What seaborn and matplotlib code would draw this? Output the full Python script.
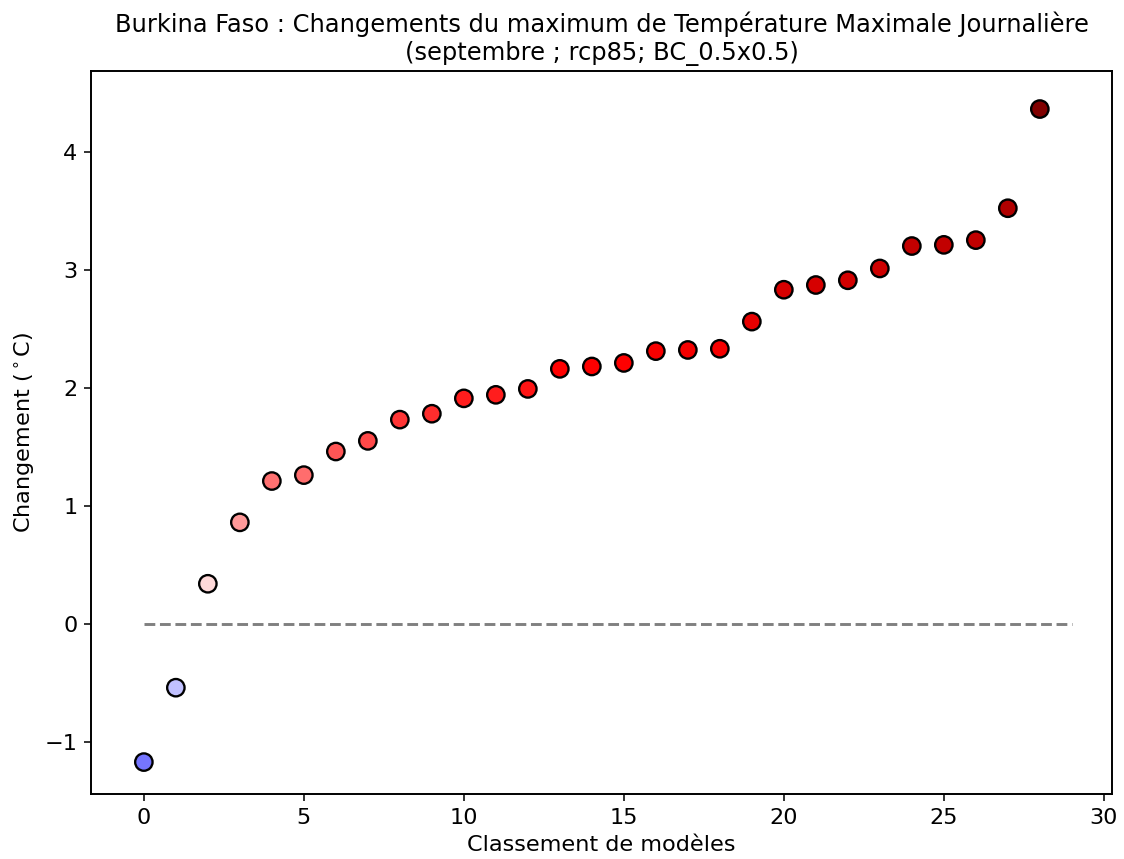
import numpy as np
import pandas as pd
import matplotlib
matplotlib.use("Agg")
import matplotlib.pyplot as plt
import seaborn as sns

# sorted model changes (degC)
rank = list(range(29))
change = [-1.17, -0.54, 0.34, 0.86, 1.21, 1.26, 1.46, 1.55, 1.73, 1.78,
          1.91, 1.94, 1.99, 2.16, 2.18, 2.21, 2.31, 2.32, 2.33, 2.56,
          2.83, 2.87, 2.91, 3.01, 3.20, 3.21, 3.25, 3.52, 4.36]

df = pd.DataFrame({"rank": rank, "change": change})
vmax = max(abs(v) for v in change)

sns.set_style("ticks")
plt.rcParams['font.family'] = ['DejaVu Sans']
plt.rcParams['text.color'] = 'black'
plt.rcParams['axes.labelcolor'] = 'black'

fig = plt.figure(figsize=(8.03, 6.136), dpi=140)
ax = fig.add_axes([0.081, 0.0757, 0.908, 0.8413])

ax.hlines(0, 0, len(rank), colors="grey", linestyles="--", linewidth=1.5, zorder=1)
sns.scatterplot(data=df, x="rank", y="change", hue="change", palette="seismic",
                hue_norm=(-vmax, vmax), edgecolor="black", linewidth=1.2,
                s=80, legend=False, ax=ax, zorder=3)

ax.set_xlim(-1.65, 30.25)
ax.set_ylim(-1.44, 4.68)
ax.set_xticks([0, 5, 10, 15, 20, 25, 30])
ax.set_yticks([-1, 0, 1, 2, 3, 4])
for sp in ax.spines.values():
    sp.set_color("black")
    sp.set_linewidth(1.0)
ax.tick_params(colors="black", labelsize=11.5)
ax.set_xlabel("Classement de modèles", fontsize=11.5)
ax.set_ylabel(r"Changement ($^\circ$C)", fontsize=11.5)
ax.set_title("Burkina Faso : Changements du maximum de Température Maximale Journalière\n"
             "(septembre ; rcp85; BC_0.5x0.5)", fontsize=12.4)

fig.savefig("out.png", dpi=140)
